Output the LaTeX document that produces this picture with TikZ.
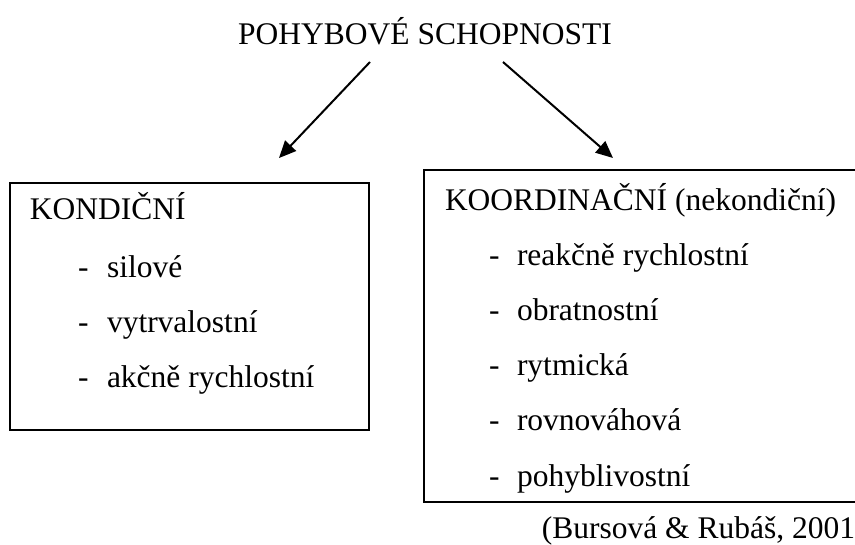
\documentclass[tikz,border=0pt]{standalone}
\usepackage{fontspec}
\setmainfont{Liberation Serif}
\usetikzlibrary{arrows.meta}
\begin{document}
\begin{tikzpicture}[x=1pt,y=-1pt,
  every node/.style={inner sep=0pt, outer sep=0pt, font=\fontsize{31.5}{36}\selectfont},
  txt/.style={anchor=base west},
  frame/.style={draw=black, line width=1.5pt, anchor=north west, fill=none},
  conn/.style={draw=black, line width=2pt, -{Triangle[length=17pt,width=15pt]}}]
\useasboundingbox (0,0) rectangle (855,545);
\clip (0,0) rectangle (855,545);
% title
\node[anchor=base] (title) at (425,45) {POHYBOVÉ SCHOPNOSTI};
% boxes
\node[frame, minimum width=359pt, minimum height=247pt] (lbox) at (10,183) {};
\node[frame, minimum width=446pt, minimum height=332pt] (rbox) at (424,170) {};
% arrow ends
\coordinate (ls) at (370,62);
\coordinate (le) at (279,158);
\coordinate (rs) at (503,62);
\coordinate (re) at (613,158);
\draw[conn] (ls) -- (le);
\draw[conn] (rs) -- (re);
% left box text
\node[txt] (kond) at (30,220) {KONDIČNÍ};
\node[txt] (ld1) at (78,278) {-};
\node[txt] (lt1) at (107,278) {silové};
\node[txt] (ld2) at (78,333) {-};
\node[txt] (lt2) at (107,333) {vytrvalostní};
\node[txt] (ld3) at (78,388) {-};
\node[txt] (lt3) at (107,388) {akčně rychlostní};
% right box text
\node[txt] (koord) at (445,211) {KOORDINAČNÍ (nekondiční)};
\node[txt] (rd1) at (489,266) {-};
\node[txt] (rt1) at (517,266) {reakčně rychlostní};
\node[txt] (rd2) at (489,321) {-};
\node[txt] (rt2) at (517,321) {obratnostní};
\node[txt] (rd3) at (489,376) {-};
\node[txt] (rt3) at (517,376) {rytmická};
\node[txt] (rd4) at (489,431) {-};
\node[txt] (rt4) at (517,431) {rovnováhová};
\node[txt] (rd5) at (489,486) {-};
\node[txt] (rt5) at (517,486) {pohyblivostní};
% citation
\node[anchor=base east] (cite) at (855,538) {(Bursová \& Rubáš, 2001};
\end{tikzpicture}
\end{document}
